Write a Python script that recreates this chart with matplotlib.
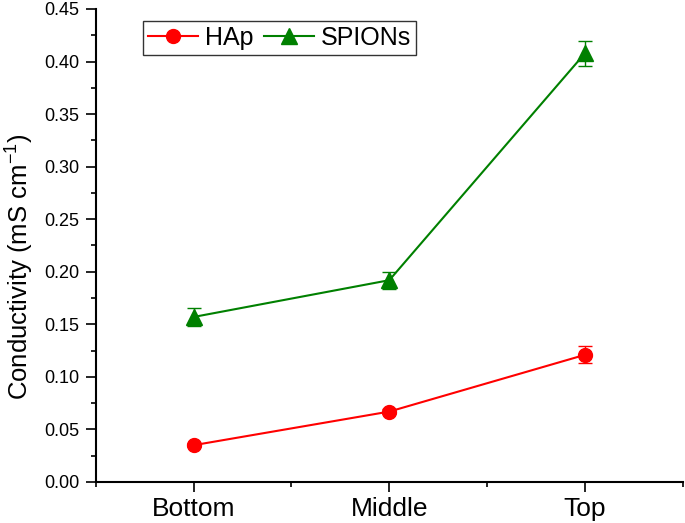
import matplotlib
matplotlib.use("Agg")
import matplotlib.pyplot as plt
from matplotlib.ticker import MultipleLocator, FixedLocator

plt.rcParams['font.family'] = ['Liberation Sans', 'DejaVu Sans']
plt.rcParams['mathtext.fontset'] = 'custom'
plt.rcParams['mathtext.rm'] = 'Liberation Sans'
plt.rcParams['mathtext.it'] = 'Liberation Sans:italic'

posicoes = ["Bottom", "Middle", "Top"]
hap = [0.035, 0.067, 0.121]
hap_err = [0.002, 0.002, 0.008]
spions = [0.157, 0.192, 0.408]
spions_err = [0.009, 0.008, 0.012]

x = [1, 2, 3]

fig = plt.figure(figsize=(6.85, 5.23), dpi=100)
ax = fig.add_axes([0.1397, 0.0784, 0.8573, 0.9044])

# barras de erro (sem legenda)
ax.errorbar(x, hap, yerr=hap_err, color="red", fmt="none",
            capsize=5, capthick=1, elinewidth=1)
ax.errorbar(x, spions, yerr=spions_err, color="green", fmt="none",
            capsize=5, capthick=1, elinewidth=1)
ax.plot(x, hap, color="red", marker="o", markersize=10, linewidth=1.5, label="HAp")
ax.plot(x, spions, color="green", marker="^", markersize=11, linewidth=1.5, label="SPIONs")

ax.set_xlim(0.5, 3.5)
ax.set_ylim(0, 0.45)
ax.set_xticks(x)
ax.set_xticklabels(posicoes, fontsize=19)
ax.xaxis.set_minor_locator(FixedLocator([0.5, 1.5, 2.5, 3.5]))
ax.yaxis.set_major_locator(MultipleLocator(0.05))
ax.yaxis.set_minor_locator(MultipleLocator(0.025))
ax.yaxis.set_major_formatter(plt.FormatStrFormatter('%.2f'))
ax.tick_params(axis='y', labelsize=13, pad=5)
ax.tick_params(axis='x', pad=4)
ax.tick_params(which='major', direction='out', length=7, width=1.2)
ax.tick_params(which='minor', direction='out', length=3.6, width=1.2)

for s in ['top', 'right']:
    ax.spines[s].set_visible(False)
for s in ['left', 'bottom']:
    ax.spines[s].set_linewidth(1.5)

ax.set_ylabel("Conductivity (mS cm$^{-1}$)", fontsize=18.5)
ax.yaxis.set_label_coords(-0.102, 0.455)

leg = ax.legend(loc="upper left", ncol=2, fontsize=18, frameon=True, fancybox=False,
                edgecolor="black", handlelength=2.0, handletextpad=0.3,
                columnspacing=0.4, borderpad=0.2, borderaxespad=0,
                bbox_to_anchor=(0.08, 0.975))
leg.get_frame().set_linewidth(1)

fig.savefig("out.png", dpi=100)
